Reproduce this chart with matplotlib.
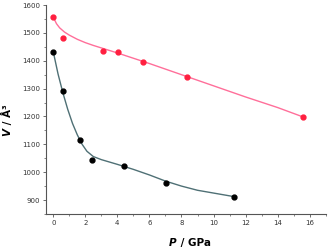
import numpy as np
import matplotlib.pyplot as plt
from matplotlib.ticker import MultipleLocator

# measured points
p_red = [0.0, 0.58, 3.08, 4.07, 5.61, 8.35, 15.59]
v_red = [1558, 1481, 1434, 1430, 1397, 1342, 1197]
p_blk = [0.0, 0.62, 1.64, 2.39, 4.41, 7.03, 11.27]
v_blk = [1432, 1292, 1115, 1042, 1021, 962, 912]

# fitted curves
fit_p_red = [0.0, 0.2, 0.4, 0.7, 1.0, 1.5, 2.0, 2.5, 3.0, 4.0, 5.0, 6.0, 8.0, 10.0, 12.0, 14.0, 15.6]
fit_v_red = [1557, 1533, 1518, 1503, 1492, 1477, 1465, 1455, 1446, 1428, 1409, 1390, 1350, 1310, 1270, 1232, 1198]
fit_p_blk = [0.0, 0.3, 0.6, 0.9, 1.2, 1.5, 1.8, 2.1, 2.5, 3.0, 4.0, 5.0, 6.0, 7.0, 8.0, 9.0, 10.0, 11.3]
fit_v_blk = [1432, 1352, 1285, 1226, 1175, 1134, 1100, 1075, 1056, 1045, 1028, 1010, 990, 968, 950, 935, 925, 912]

fig = plt.figure(figsize=(3.29, 2.52), dpi=100)
ax = fig.add_axes([0.14, 0.151, 0.85, 0.829])

ax.plot(fit_p_red, fit_v_red, color='#ff6f9a', lw=1.0, zorder=2)
ax.plot(fit_p_blk, fit_v_blk, color='#4f7075', lw=1.0, zorder=2)
ax.plot(p_red, v_red, 'o', color='#ff1f3f', ms=3.5, zorder=3)
ax.plot(p_blk, v_blk, 'o', color='black', ms=3.5, zorder=3)

ax.set_xlim(-0.45, 17.0)
ax.set_ylim(850, 1600)
ax.xaxis.set_major_locator(MultipleLocator(2))
ax.xaxis.set_minor_locator(MultipleLocator(1))
ax.yaxis.set_major_locator(MultipleLocator(100))
ax.yaxis.set_minor_locator(MultipleLocator(50))

for s in ['top', 'right']:
    ax.spines[s].set_visible(False)
for s in ['left', 'bottom']:
    ax.spines[s].set_color('#555555')
    ax.spines[s].set_linewidth(0.8)

ax.tick_params(which='major', direction='out', length=2.5, width=0.6,
               colors='#555555', labelsize=5, labelcolor='#333333', pad=2)
ax.tick_params(which='minor', direction='out', length=1.5, width=0.5, colors='#555555')

# axis titles: italic symbol + upright unit
fig.text(0.535, 0.035, 'P', fontsize=7.5, fontweight='bold', style='italic', ha='right', va='center')
fig.text(0.537, 0.035, ' / GPa', fontsize=7.5, fontweight='bold', ha='left', va='center')
fig.text(0.022, 0.462, 'V', fontsize=7.5, fontweight='bold', style='italic', rotation=90, ha='center', va='bottom')
fig.text(0.022, 0.492, ' / Å³', fontsize=7.5, fontweight='bold', rotation=90, ha='center', va='bottom')

fig.savefig('out.png', dpi=100)
